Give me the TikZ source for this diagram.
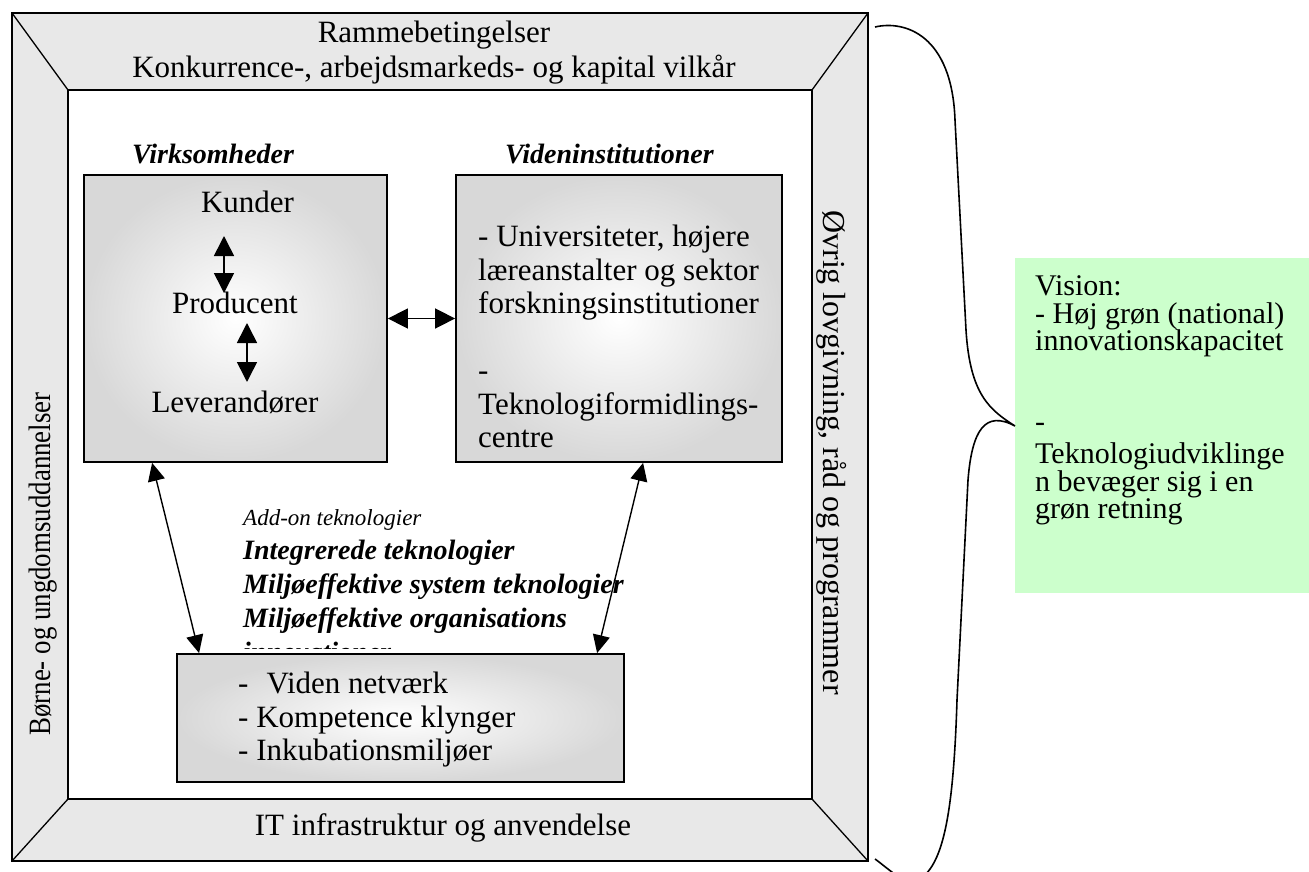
\documentclass[tikz,border=0pt]{standalone}
\usepackage{fontspec}
\setmainfont{Liberation Serif}
\newfontfamily\condensedserif[FakeStretch=0.867]{Liberation Serif}
\usetikzlibrary{arrows.meta}
\definecolor{stripgray}{RGB}{232,232,232}
\definecolor{boxgray}{RGB}{216,216,216}
\definecolor{visiongreen}{RGB}{204,255,204}
\tikzset{
  strip/.style={fill=stripgray, draw=black, line width=1.8pt},
  boxx/.style={draw=black, line width=1.8pt, shading=radial, inner color=white, outer color=boxgray, inner sep=0pt},
  txt/.style={font=\fontsize{31}{33.5}\selectfont, inner sep=0pt},
  mtxt/.style={font=\fontsize{31}{33.5}\selectfont, inner sep=0pt, align=left},
  vtxt/.style={font=\fontsize{30}{27.5}\selectfont, inner sep=0pt, align=left},
  bitxt/.style={font=\fontsize{28}{33}\selectfont\bfseries\itshape, inner sep=0pt},
  itxt/.style={font=\fontsize{23}{33}\selectfont\itshape, inner sep=0pt},
  dbl/.style={line width=1.6pt, {Triangle[width=20pt,length=20pt]}-{Triangle[width=20pt,length=20pt]}},
  dbls/.style={line width=1.4pt, {Triangle[width=17pt,length=18pt]}-{Triangle[width=17pt,length=18pt]}},
  bracepath/.style={line width=1.6pt}
}
\begin{document}
\begin{tikzpicture}[x=1pt,y=-1pt]
\useasboundingbox (0,0) rectangle (1309,872);
% frame
\coordinate (O1) at (12,13);
\coordinate (O2) at (868,13);
\coordinate (O3) at (868,861);
\coordinate (O4) at (12,861);
\coordinate (I1) at (68,90);
\coordinate (I2) at (812,90);
\coordinate (I3) at (812,799);
\coordinate (I4) at (68,799);
\draw[strip] (O1) rectangle (O3);
\draw[line width=1.8pt, fill=white] (I1) rectangle (I3);
\draw[line width=1.3pt] (O1) -- (I1) (O2) -- (I2) (O3) -- (I3) (O4) -- (I4);
% strip texts
\node[txt, anchor=base] (ramme) at (434,43) {Rammebetingelser};
\node[txt, anchor=base] (konk) at (434,78) {Konkurrence-, arbejdsmarkeds- og kapital vilkår};
\node[txt, anchor=base] (itinf) at (443,835) {IT infrastruktur og anvendelse};
\node[inner sep=0pt, font=\condensedserif\fontsize{31}{33.5}\selectfont, anchor=base, rotate=90] (borne) at (50.5,564) {Børne- og ungdomsuddannelser};
\node[inner sep=0pt, font=\fontsize{32}{34}\selectfont, anchor=base, rotate=-90] (ovrig) at (823,452.5) {Øvrig lovgivning, råd og programmer};
% boxes
\node[boxx, minimum width=303pt, minimum height=287pt] (virk) at (235.5,318.5) {};
\node[boxx, minimum width=326pt, minimum height=287pt] (viden) at (619,318.5) {};
\node[boxx, minimum width=447pt, minimum height=128pt] (net) at (400.5,718) {};
% labels
\node[bitxt, anchor=base west] (virklbl) at (132,164) {Virksomheder};
\node[bitxt, anchor=base west] (videnlbl) at (505,164) {Videninstitutioner};
% virksomheder content
\node[txt, anchor=base] (kunder) at (247.5,212) {Kunder};
\node[txt, anchor=base] (prod) at (235,313) {Producent};
\node[txt, anchor=base] (lev) at (235,412) {Leverandører};
\coordinate (a1t) at (224,236);
\coordinate (a1b) at (224,293);
\coordinate (a2t) at (247,323);
\coordinate (a2b) at (247,382);
\draw[dbl] (a1t) -- (a1b);
\draw[dbl] (a2t) -- (a2b);
% viden content
\node[mtxt, anchor=north west] (videntxt) at (478,224.8) {- Universiteter, højere\\læreanstalter og sektor\\forskningsinstitutioner\\[33.5pt]-\\Teknologiformidlings-\\centre};
% network content
\node[mtxt, anchor=north west] (nettxt) at (238,671.8) {-\hspace{18pt}Viden netværk\\- Kompetence klynger\\- Inkubationsmiljøer};
% connectors
\draw[dbl] (virk.east) -- (viden.west);
\draw[dbls] ([xshift=69pt]virk.south west) -- ([xshift=23pt]net.north west);
\draw[dbls] ([xshift=188pt]viden.south west) -- ([xshift=421pt]net.north west);
% technology text
\begin{scope}
\clip (230,495) rectangle (700,648);
\node[itxt, anchor=base west] (addon) at (243,525) {Add-on teknologier};
\node[bitxt, anchor=base west] (integ) at (243,559) {Integrerede teknologier};
\node[bitxt, anchor=base west] (miljs) at (243,593) {Miljøeffektive system teknologier};
\node[bitxt, anchor=base west] (miljo) at (243,627) {Miljøeffektive organisations};
\node[bitxt, anchor=base west] (innov) at (243,661) {innovationer};
\end{scope}
% vision
\node[fill=visiongreen, minimum width=294pt, minimum height=335pt, anchor=north west, inner sep=0pt] (vision) at (1015,258) {};
\node[vtxt, anchor=north west] (visiontxt) at (1035,275.5) {Vision:\\- Høj grøn (national)\\innovationskapacitet\\[53.5pt]-\\[4.5pt]Teknologiudviklinge\\n bevæger sig i en\\grøn retning};
% brace
\coordinate (bt) at (875,27);
\coordinate (bb) at (875,859);
\coordinate (tip) at (vision.west |- 0,426);
\draw[bracepath] (bt) .. controls (905,20) and (952,35) .. (955,120)
  -- (966,330) .. controls (970,395) and (990,410) .. (tip)
  .. controls (985,410) and (972,430) .. (968,480)
  -- (957,700) .. controls (953,830) and (940,870) .. (915,882)
  .. controls (905,885) and (885,866) .. (bb);
\end{tikzpicture}
\end{document}
